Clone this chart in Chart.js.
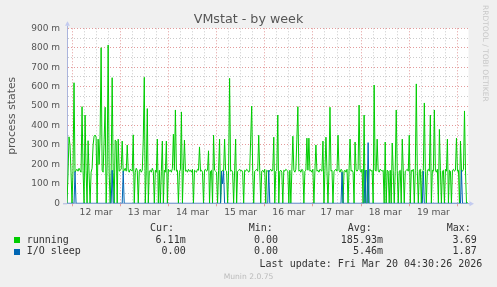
<!DOCTYPE html>
<html><head><meta charset="utf-8">
<script src="https://cdn.jsdelivr.net/npm/chart.js@4.4.1/dist/chart.umd.min.js"></script>
<style>
html,body{margin:0;padding:0;background:#f0f0f0;}
#wrap{position:relative;width:497px;height:287px;overflow:hidden;background:#f0f0f0;}
canvas{position:absolute;left:0;top:0;}
.t{position:absolute;white-space:pre;}
.mono{font-family:'DejaVu Sans Mono',monospace;font-size:10px;line-height:12px;color:#333;}
.r{text-align:right;}
.sq{position:absolute;width:6px;height:6px;}
</style></head><body>
<div id="wrap">
<canvas id="c" width="497" height="287"></canvas>
<div class="t" style="left:0;width:497px;text-align:center;top:11.4px;font-family:'DejaVu Sans';font-size:12.7px;line-height:15px;color:#555;">VMstat - by week</div>
<div class="t" style="left:481px;top:5px;writing-mode:vertical-rl;font-family:'DejaVu Sans';font-size:7.5px;line-height:9px;color:#c8c8c8;">RRDTOOL / TOBI OETIKER</div>
<div class="t mono" style="left:150px;top:221.5px;">Cur:</div>
<div class="t mono" style="left:248.7px;top:221.5px;">Min:</div>
<div class="t mono" style="left:347.7px;top:221.5px;">Avg:</div>
<div class="t mono" style="left:446.7px;top:221.5px;">Max:</div>
<div class="sq" style="left:14px;top:237px;background:#00cc00;"></div>
<div class="t mono" style="left:26.7px;top:233.8px;">running</div>
<div class="t mono r" style="left:100px;width:85.7px;top:233.8px;">6.11m</div>
<div class="t mono r" style="left:200px;width:78px;top:233.8px;">0.00</div>
<div class="t mono r" style="left:300px;width:83px;top:233.8px;">185.93m</div>
<div class="t mono r" style="left:400px;width:76.7px;top:233.8px;">3.69</div>
<div class="sq" style="left:14px;top:249px;background:#0066b3;"></div>
<div class="t mono" style="left:26.7px;top:244.9px;">I/O sleep</div>
<div class="t mono r" style="left:100px;width:85.7px;top:244.9px;">0.00</div>
<div class="t mono r" style="left:200px;width:78px;top:244.9px;">0.00</div>
<div class="t mono r" style="left:300px;width:83px;top:244.9px;">5.46m</div>
<div class="t mono r" style="left:400px;width:76.7px;top:244.9px;">1.87</div>
<div class="t mono r" style="left:200px;width:282.3px;top:257.5px;">Last update: Fri Mar 20 04:30:26 2026</div>
<div class="t" style="left:0;width:497px;text-align:center;top:271.9px;font-family:'DejaVu Sans';font-size:7.6px;line-height:9px;color:#bbb;">Munin 2.0.75</div>
</div>
<script>
// time axis: hours relative to Mar 12 00:00, one sample per 30 minutes
const startHour = -2.5;
const stepHours = 0.5;
const xMin = -2.5;
const xMax = 197.5;
const tickHours = [0,6,12,18,24,30,36,42,48,54,60,66,72,78,84,90,96,102,108,114,120,126,132,138,144,150,156,162,168,174,180,186,192];
const dayLabels = ['12 mar','13 mar','14 mar','15 mar','16 mar','17 mar','18 mar','19 mar'];
const yTicks = [0,50,100,150,200,250,300,350,400,450,500,550,600,650,700,750,800,850,900];

// running (milli process states)
const running = [
0,150,342,300,160,0,170,620,160,170, 175,165,180,170,160,497,170,0,454,170,
0,322,150,0,160,180,300,345,351,340, 0,330,200,350,800,170,160,330,494,0,
200,814,160,0,170,646,160,0,325,320, 0,330,165,170,175,320,160,170,180,165,
300,170,160,175,170,165,352,0,160,180, 170,0,165,175,160,170,330,648,0,170,
487,0,165,170,160,180,165,0,170,160, 330,0,170,0,165,320,0,170,160,320,
0,175,165,170,160,180,355,170,480,165, 170,0,160,175,470,0,170,325,165,170,
160,175,165,170,160,175,0,170,165,160, 175,170,290,165,170,160,0,170,175,165,
170,270,0,165,170,0,350,170,165,160, 0,170,330,0,165,170,160,330,170,165,
0,170,643,165,170,160,0,170,330,0, 165,170,175,165,170,160,0,170,165,175,
170,160,165,330,500,170,0,165,170,175, 165,350,170,0,165,170,160,175,0,170,
165,160,170,175,165,170,340,0,165,170, 454,0,165,170,160,0,170,165,175,170,
165,0,170,0,165,345,170,160,175,330, 497,165,170,160,175,170,0,165,170,335,
170,335,165,170,160,175,0,170,300,165, 170,160,175,170,165,320,0,170,340,165,
0,170,494,165,170,0,165,170,175,165, 350,170,160,175,170,0,165,170,160,175,
0,170,330,165,170,160,0,315,170,165, 175,505,170,160,175,0,454,0,170,165,
0,170,175,165,170,0,608,170,165,330, 170,160,175,170,165,170,0,315,0,170,
165,0,170,0,310,170,0,165,480,170, 0,165,170,0,330,170,0,165,170,175,
165,350,0,170,165,175,0,170,614,165, 0,170,175,0,165,170,516,165,0,170,
175,165,454,0,170,165,480,170,160,175, 0,380,170,0,165,170,0,175,165,330,
0,170,165,0,170,175,165,170,335,165, 170,0,320,170,165,175,475,170,0,6
];

// I/O sleep (milli process states)
const ioSleep = [
0,0,0,0,0,0,0,0,163,0, 0,0,0,0,0,0,0,0,0,0,
0,0,0,0,0,0,0,0,0,0, 0,0,0,0,0,0,0,0,0,0,
0,0,0,0,0,170,0,0,0,0, 0,0,0,0,0,0,165,0,0,0,
0,0,0,0,0,0,0,0,0,0, 0,0,0,0,0,0,0,0,0,0,
0,0,0,0,0,0,0,0,0,0, 0,0,0,0,0,0,0,0,0,0,
0,0,0,0,0,0,0,0,0,0, 0,0,0,0,0,0,0,0,0,0,
0,0,0,0,0,0,0,0,0,0, 0,0,0,0,0,0,0,0,0,0,
0,0,0,0,0,0,0,0,0,0, 0,0,0,0,165,100,165,0,0,0,
0,0,0,0,0,0,0,0,0,0, 0,0,0,0,0,0,0,0,0,0,
0,0,0,0,0,0,0,0,0,0, 0,0,0,0,0,0,0,0,0,0,
0,170,0,0,0,0,0,0,0,0, 0,0,0,0,0,0,0,0,0,0,
0,0,0,0,0,0,0,0,0,0, 0,0,0,0,0,0,0,0,0,0,
0,0,0,0,0,0,0,0,0,0, 0,0,0,0,0,0,0,0,0,0,
0,0,0,0,0,0,0,0,0,0, 0,0,0,0,160,0,0,0,0,0,
0,0,0,0,0,0,0,0,0,0, 0,0,0,0,0,0,0,170,0,0,
312,0,0,0,0,0,0,0,0,0, 0,0,0,0,0,0,0,0,0,0,
0,0,0,0,0,0,0,0,0,0, 0,0,0,0,0,0,0,0,0,0,
0,0,0,0,0,0,0,0,0,0, 0,0,0,0,0,165,0,0,0,0,
0,0,0,0,0,0,0,0,0,0, 0,0,0,0,0,0,0,0,0,0,
0,0,0,0,0,0,0,0,0,0, 0,0,0,170,0,0,0,0,0,0
];

const toPoints = arr => arr.map((v, i) => ({x: startHour + i * stepHours, y: v}));

const RED = 'rgba(226,150,150,0.95)';
const GRAY = 'rgba(200,200,200,0.95)';
const AXIS = '#aab4dc';

const decor = {
  id: 'decor',
  beforeDraw(chart) {
    const {ctx, chartArea: a} = chart;
    ctx.save();
    ctx.fillStyle = '#ffffff';
    ctx.fillRect(a.left, a.top, a.right - a.left, a.bottom - a.top);
    ctx.restore();
  },
  afterDraw(chart) {
    const {ctx, chartArea: a} = chart;
    ctx.save();
    ctx.strokeStyle = AXIS;
    ctx.lineWidth = 1;
    ctx.beginPath();
    ctx.moveTo(a.left + 0.5, a.top);
    ctx.lineTo(a.left + 0.5, a.top - 2.5);
    ctx.moveTo(a.left - 4, a.bottom + 0.5);
    ctx.lineTo(a.left, a.bottom + 0.5);
    ctx.moveTo(a.right, a.bottom + 0.5);
    ctx.lineTo(a.right + 1.5, a.bottom + 0.5);
    ctx.stroke();
    ctx.fillStyle = 'rgba(190,198,240,0.9)';
    ctx.beginPath();
    ctx.moveTo(a.left - 2, a.top - 2.5);
    ctx.lineTo(a.left + 3, a.top - 2.5);
    ctx.lineTo(a.left + 0.5, a.top - 7);
    ctx.closePath();
    ctx.fill();
    ctx.beginPath();
    ctx.moveTo(a.right + 1, a.bottom - 2);
    ctx.lineTo(a.right + 1, a.bottom + 3);
    ctx.lineTo(a.right + 5.5, a.bottom + 0.5);
    ctx.closePath();
    ctx.fill();
    ctx.restore();
  }
};

new Chart(document.getElementById('c'), {
  type: 'line',
  data: {
    datasets: [
      {label: 'I/O sleep', data: toPoints(ioSleep), borderColor: '#0066b3', borderWidth: 1, pointRadius: 0, tension: 0, fill: false, order: 0},
      {label: 'running', data: toPoints(running), borderColor: '#00cc00', borderWidth: 1, pointRadius: 0, tension: 0, fill: false, order: 1}
    ]
  },
  options: {
    responsive: false,
    animation: false,
    devicePixelRatio: 1,
    events: [],
    layout: {padding: {left: 0, top: 28.3, right: 28.5, bottom: 63.7}},
    plugins: {legend: {display: false}, tooltip: {enabled: false}, title: {display: false}},
    scales: {
      x: {
        type: 'linear',
        min: xMin, max: xMax,
        afterBuildTicks: s => { s.ticks = tickHours.map(v => ({value: v})); },
        afterFit: s => { s.height = 20; },
        ticks: {
          autoSkip: false, maxRotation: 0, minRotation: 0, padding: 1,
          color: '#555', font: {family: 'DejaVu Sans', size: 9.2},
          callback: v => (v % 24 === 12 ? dayLabels[(v - 12) / 24] : '')
        },
        grid: {
          drawTicks: true, tickLength: 3,
          color: c => (c.tick && c.tick.value % 24 === 0 ? RED : GRAY),
          tickColor: c => (c.tick && c.tick.value % 24 === 0 ? RED : 'rgba(0,0,0,0)'),
          lineWidth: 1
        },
        border: {display: true, color: AXIS, dash: [1, 2]}
      },
      y: {
        min: 0, max: 900,
        afterBuildTicks: s => { s.ticks = yTicks.map(v => ({value: v})); },
        afterFit: s => { s.width = 67; },
        ticks: {
          autoSkip: false, padding: 7,
          color: '#555', font: {family: 'DejaVu Sans', size: 9},
          callback: v => (v % 100 === 0 ? (v === 0 ? '0' : v + ' m') : '')
        },
        grid: {
          drawTicks: false,
          color: c => (c.tick && c.tick.value % 100 === 0 ? RED : GRAY),
          lineWidth: 1
        },
        border: {display: true, color: AXIS, dash: [1, 2]},
        title: {display: true, text: 'process states', color: '#555', font: {family: 'DejaVu Sans', size: 10.8}, padding: {top: 6, bottom: 0}}
      }
    }
  },
  plugins: [decor]
});
</script>
</body></html>
